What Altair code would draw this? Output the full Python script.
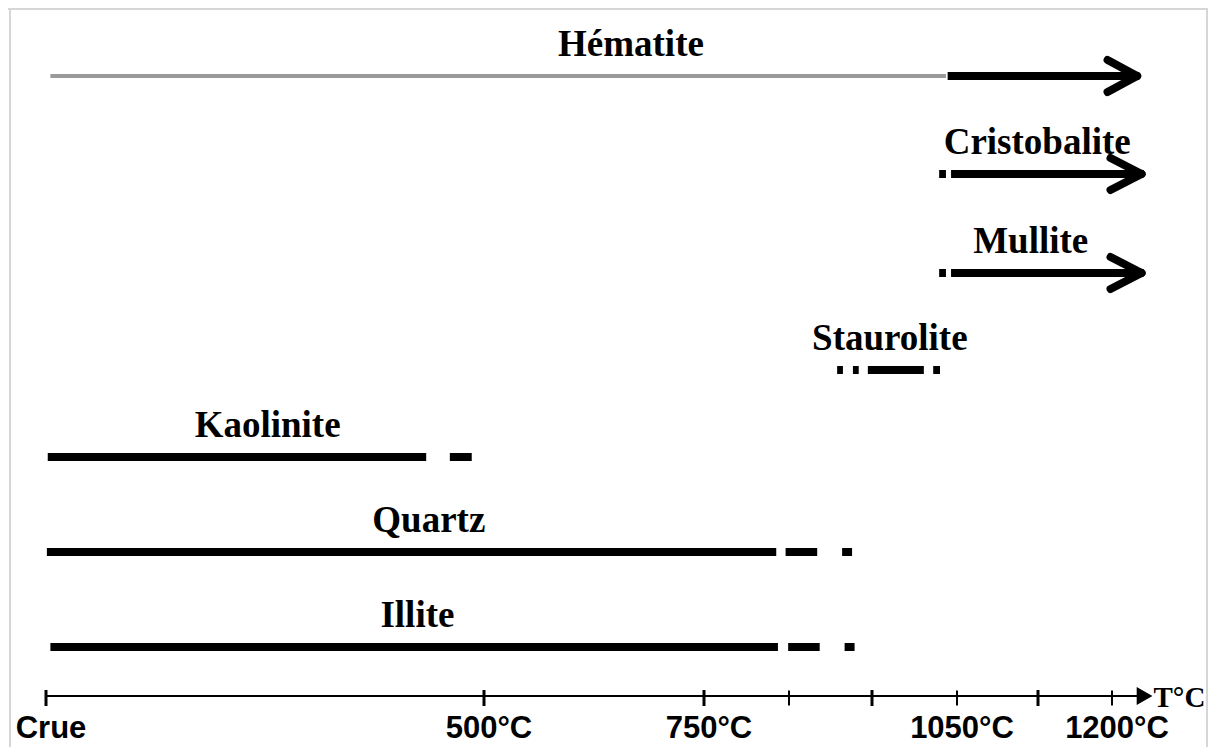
import altair as alt
import pandas as pd

# ---------------- data ----------------
# temperature axis (Crue = raw, placed at 0)
tick_temps = [0, 500, 750, 850, 950, 1050, 1150, 1200]
tick_major = [True, True, True, False, True, False, True, False]
label_temps = [0, 500, 750, 1050, 1200]
label_texts = ["Crue", "500°C", "750°C", "1050°C", "1200°C"]
axis_end = 1222
axis_title = "T°C"
axis_title_temp = 1228

# phases, one row each
phases = ["Hématite", "Cristobalite", "Mullite", "Staurolite", "Kaolinite", "Quartz", "Illite"]
levels = [6, 5, 4, 3, 2, 1, 0]
label_x = [667, 1149, 1141, 971, 253, 437, 424]

# segments (phase, start, end, kind)
seg_phase = ["Hématite", "Hématite",
             "Cristobalite", "Cristobalite",
             "Mullite", "Mullite",
             "Staurolite", "Staurolite", "Staurolite", "Staurolite",
             "Kaolinite", "Kaolinite",
             "Quartz", "Quartz", "Quartz",
             "Illite", "Illite", "Illite"]
seg_start = [5, 1039,
             1029, 1043,
             1029, 1043,
             908, 927, 945, 1022,
             2, 461,
             1, 846, 914,
             5, 849, 917]
seg_end = [1037, 1216,
           1037, 1219,
           1037, 1219,
           915, 934, 1011, 1030,
           434, 486,
           835, 884, 926,
           837, 887, 929]
seg_kind = ["gray", "black",
            "black", "black",
            "black", "black",
            "black", "black", "black", "black",
            "black", "black",
            "black", "black", "black",
            "black", "black", "black"]

# arrow heads (phase, tip, back)
arrow_phase = ["Hématite", "Cristobalite", "Mullite"]
arrow_tip = [1217, 1220, 1220]
arrow_back = [1197, 1199, 1199]

# ---------------- layout (scales) ----------------
W, H = 1200, 739
x_domain = tick_temps
x_range = [38, 476, 696, 781, 864, 949, 1030, 1104]
y_domain = [-1, 0, 1, 2, 3, 4, 5, 6]
y_range = [688, 639, 544, 449, 362, 265, 166, 68]

xs = alt.Scale(domain=x_domain, range=x_range, nice=False, zero=False)
ys = alt.Scale(domain=y_domain, range=y_range, nice=False, zero=False)


def X(f):
    return alt.X(f, type="quantitative", scale=xs, axis=None)


def Y(f):
    return alt.Y(f, type="quantitative", scale=ys, axis=None)


lvl = dict(zip(phases, levels))
seg = pd.DataFrame({"phase": seg_phase, "start": seg_start, "end": seg_end, "kind": seg_kind})
seg["level"] = seg["phase"].map(lvl)
arr = pd.DataFrame({"phase": arrow_phase, "tip": arrow_tip, "back": arrow_back})
arr["level"] = arr["phase"].map(lvl)
lab = pd.DataFrame({"phase": phases, "level": levels, "x": label_x})
ticks = pd.DataFrame({"t": tick_temps, "major": tick_major, "level": -1})
axl = pd.DataFrame({"t": label_temps, "text": label_texts, "level": -1})
axline = pd.DataFrame({"a": [0], "b": [axis_end], "level": [-1]})
axtitle = pd.DataFrame({"t": [axis_title_temp], "text": [axis_title], "level": [-1]})
one = pd.DataFrame({"a": [0]})

frame_col = "#d6d6d6"
frame = alt.layer(
    alt.Chart(one).mark_rule(color=frame_col, strokeWidth=2).encode(
        x=alt.value(0), x2=alt.value(W), y=alt.value(1)),
    alt.Chart(one).mark_rule(color=frame_col, strokeWidth=2).encode(
        x=alt.value(2), y=alt.value(0), y2=alt.value(H)),
    alt.Chart(one).mark_rule(color=frame_col, strokeWidth=2).encode(
        x=alt.value(W - 1), y=alt.value(0), y2=alt.value(H)),
)

gray = alt.Chart(seg[seg.kind == "gray"]).mark_rule(color="#9a9a9a", strokeWidth=4).encode(
    x=X("start"), x2="end", y=Y("level"))
black = alt.Chart(seg[seg.kind == "black"]).mark_rule(color="black", strokeWidth=8).encode(
    x=X("start"), x2="end", y=Y("level"))

arm_up = alt.Chart(arr).mark_rule(color="black", strokeWidth=8, strokeCap="round",
                                   y2Offset=-16).encode(
    x=X("tip"), x2="back", y=Y("level"), y2="level")
arm_dn = alt.Chart(arr).mark_rule(color="black", strokeWidth=8, strokeCap="round",
                                   y2Offset=16).encode(
    x=X("tip"), x2="back", y=Y("level"), y2="level")

labels = alt.Chart(lab).mark_text(font="Liberation Serif", fontWeight="bold", fontSize=37,
                                   baseline="alphabetic", dy=-20, color="black").encode(
    x=X("x"), y=Y("level"), text="phase")

axis_line = alt.Chart(axline).mark_rule(color="black", strokeWidth=2).encode(
    x=X("a"), x2="b", y=Y("level"))
axis_arrow = alt.Chart(axline).mark_point(shape="triangle-right", filled=True, size=330,
                                          color="black", opacity=1).encode(
    x=X("b"), y=Y("level"))
ticks_major = alt.Chart(ticks[ticks.major]).mark_tick(orient="vertical", size=16, thickness=3,
                                                      color="black", opacity=1, yOffset=2).encode(
    x=X("t"), y=Y("level"))
ticks_minor = alt.Chart(ticks[~ticks.major]).mark_tick(orient="vertical", size=15, thickness=2,
                                                       color="black", opacity=1, yOffset=2).encode(
    x=X("t"), y=Y("level"))
axis_labels = alt.Chart(axl).mark_text(font="Liberation Sans", fontWeight="bold", fontSize=31,
                                       baseline="alphabetic", dy=42, dx=5, color="black").encode(
    x=X("t"), y=Y("level"), text="text")
axis_title_mark = alt.Chart(axtitle).mark_text(font="Liberation Serif", fontWeight="bold",
                                               fontSize=29, baseline="alphabetic", align="left",
                                               dy=11, color="black").encode(
    x=X("t"), y=Y("level"), text="text")

chart = alt.layer(
    frame, gray, black, arm_up, arm_dn, labels,
    axis_line, axis_arrow, ticks_major, ticks_minor, axis_labels, axis_title_mark,
).properties(
    width=W, height=H, padding=0, autosize=alt.AutoSizeParams(type="none"), background="white"
).configure_view(stroke=None)

chart.save("out.html", embed_options={"renderer": "svg", "actions": False})
